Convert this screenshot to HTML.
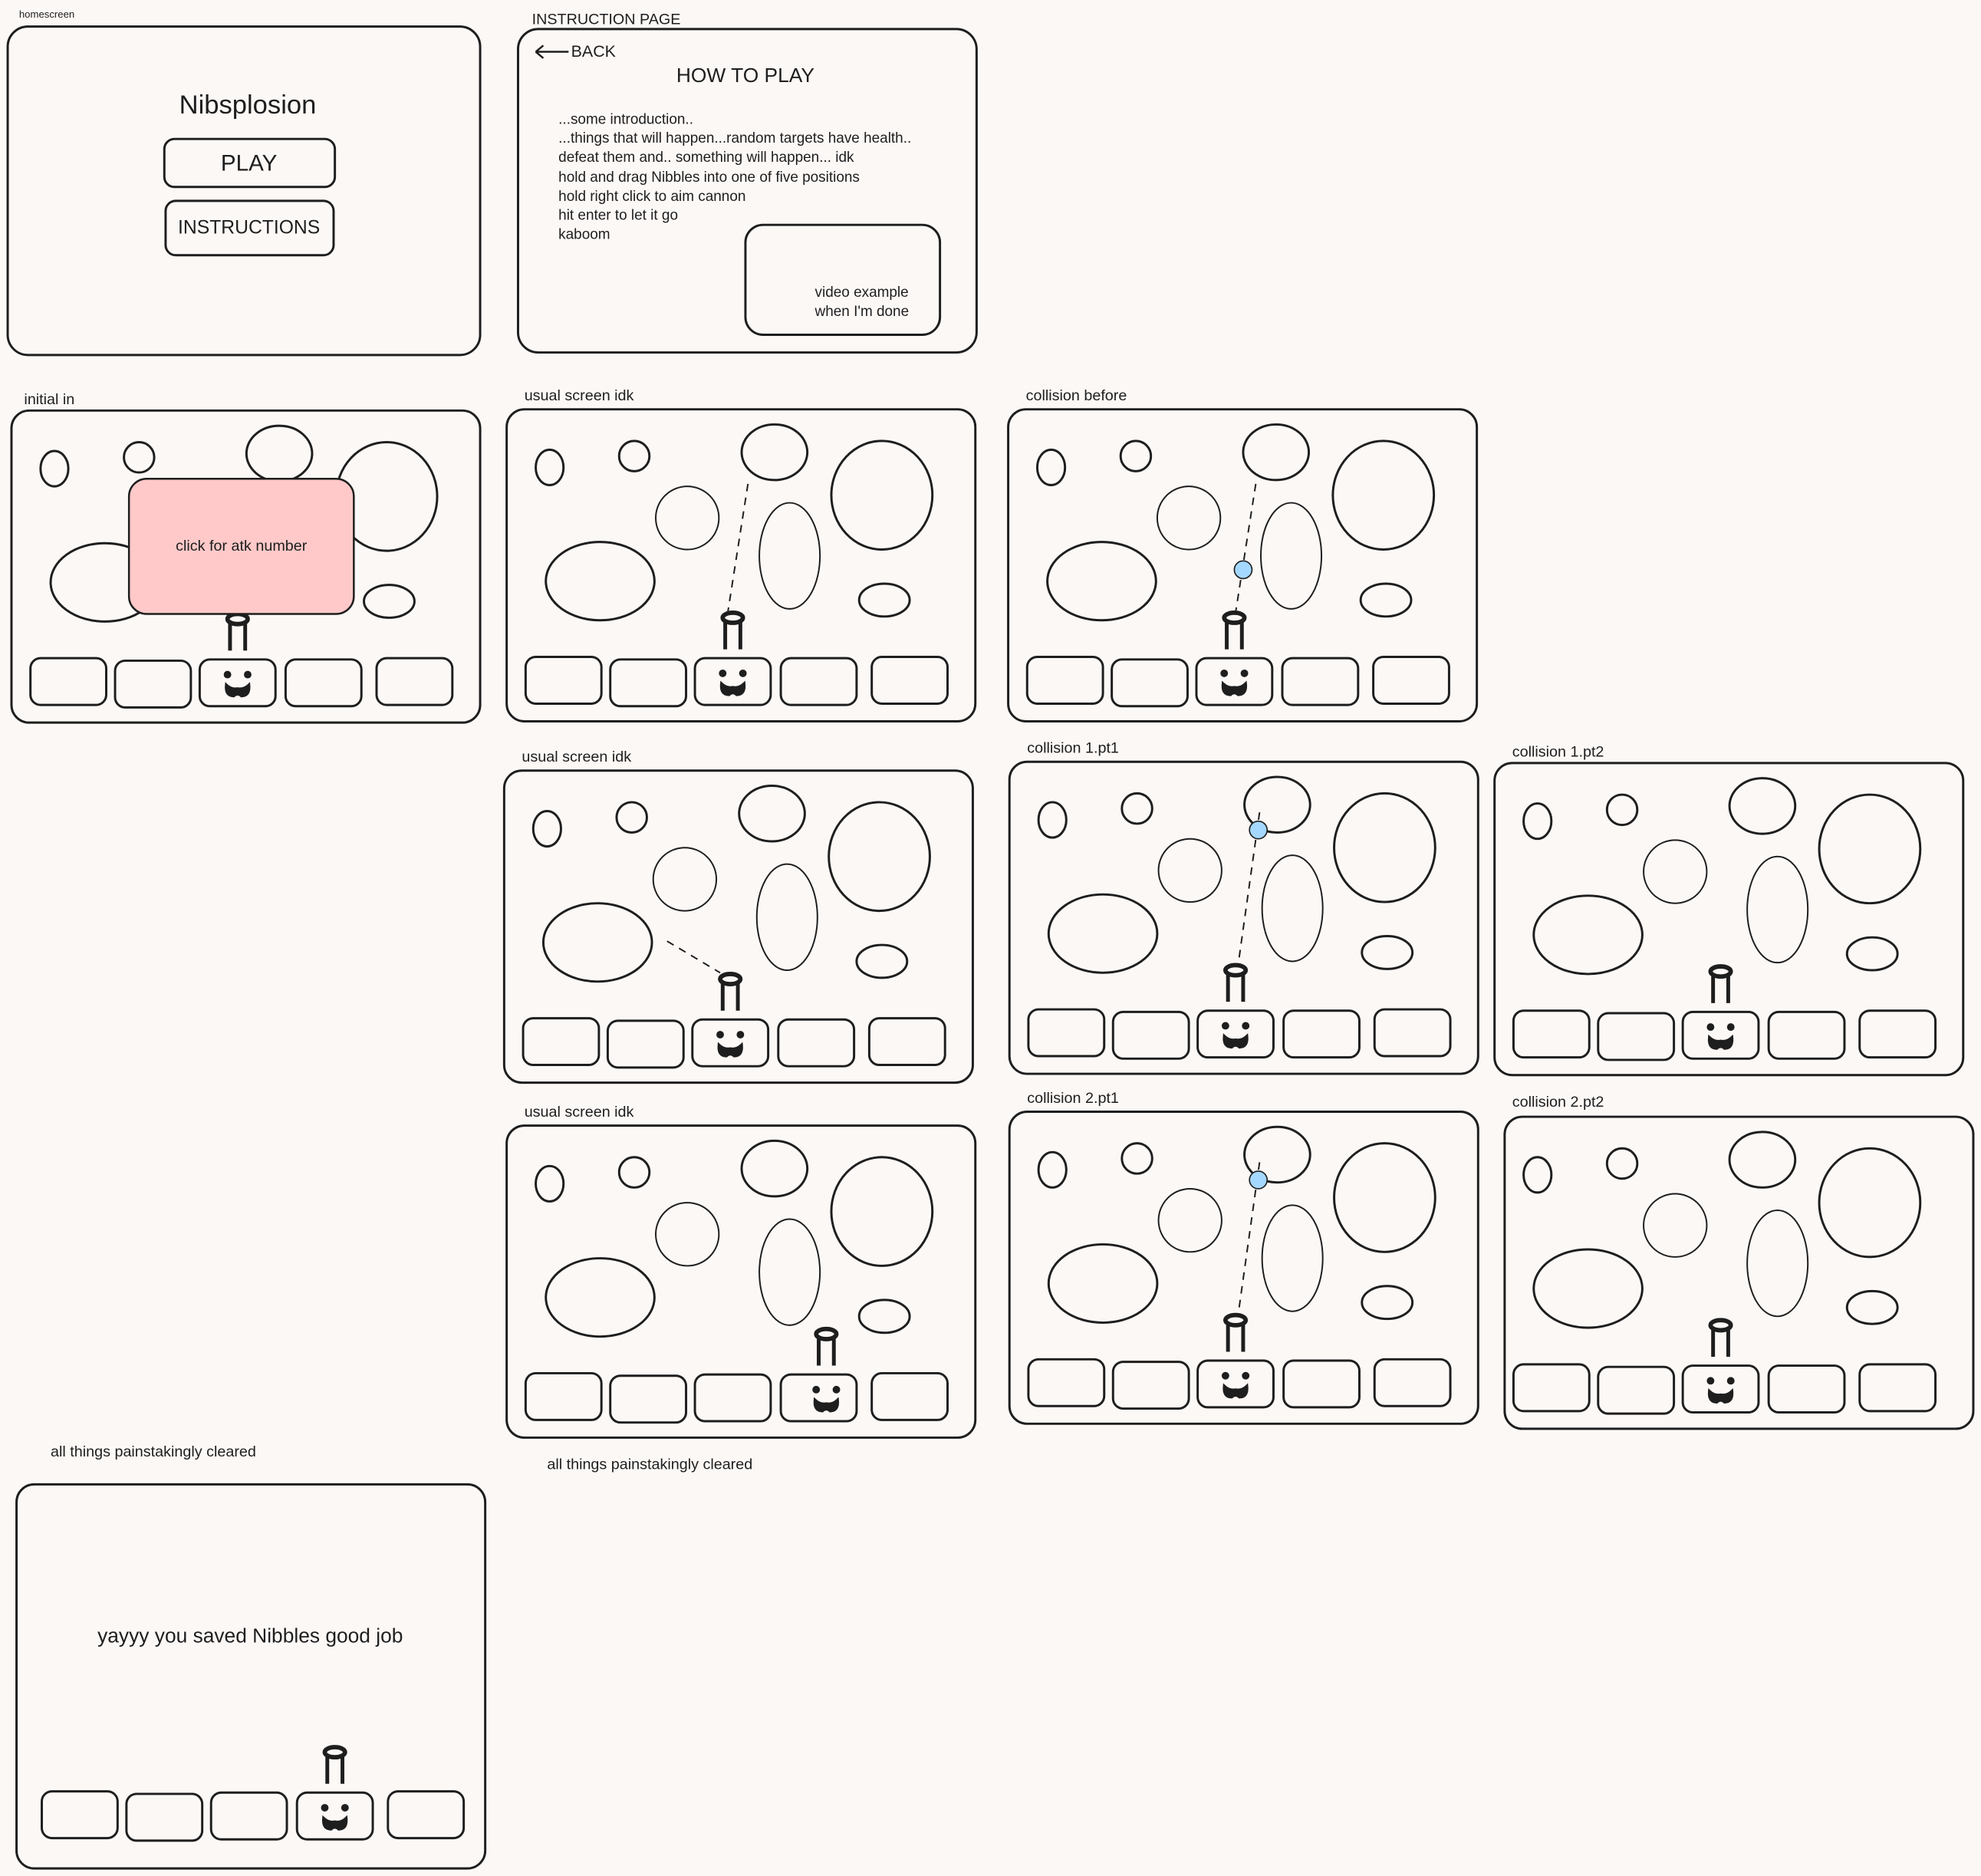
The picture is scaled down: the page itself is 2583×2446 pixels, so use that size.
<!DOCTYPE html>
<html><head><meta charset="utf-8"><style>
html,body{margin:0;padding:0;background:#fcf8f6;}
svg{display:block}
text{font-family:"Liberation Sans",sans-serif;fill:#1e1e1e}
</style></head><body>
<svg width="2583" height="2446" viewBox="0 0 1568 1485" xmlns="http://www.w3.org/2000/svg">
<rect width="1568" height="1485" fill="#fcf8f6"/>
<defs>
<g id="inner" fill="none" stroke="#1e1e1e" stroke-width="1.8">
  <ellipse cx="34" cy="46" rx="11" ry="14"/>
  <ellipse cx="101" cy="37" rx="12" ry="12"/>
  <ellipse cx="212" cy="34" rx="26" ry="22"/>
  <ellipse cx="143" cy="86" rx="25" ry="25" stroke-width="1.2"/>
  <ellipse cx="297" cy="68" rx="40" ry="43"/>
  <ellipse cx="74" cy="136" rx="43" ry="31"/>
  <ellipse cx="224" cy="116" rx="24" ry="42" stroke-width="1.2"/>
  <ellipse cx="299" cy="151" rx="20" ry="13"/>
  <rect x="15" y="196" width="60" height="37" rx="8"/>
  <rect x="82" y="198" width="60" height="37" rx="8"/>
  <rect x="149" y="197" width="60" height="37" rx="8"/>
  <rect x="217" y="197" width="60" height="37" rx="8"/>
  <rect x="289" y="196" width="60" height="37" rx="8"/>
</g>
<g id="base">
  <rect x="0" y="0" width="371" height="247" rx="14" fill="none" stroke="#1e1e1e" stroke-width="1.8"/>
  <use href="#inner"/>
</g>
<g id="slots" fill="none" stroke="#1e1e1e" stroke-width="1.8">
  <rect x="15" y="196" width="60" height="37" rx="8"/>
  <rect x="82" y="198" width="60" height="37" rx="8"/>
  <rect x="149" y="197" width="60" height="37" rx="8"/>
  <rect x="217" y="197" width="60" height="37" rx="8"/>
  <rect x="289" y="196" width="60" height="37" rx="8"/>
</g>
<g id="nib">
  <circle cx="-8" cy="12" r="3" fill="#1e1e1e"/>
  <circle cx="8" cy="12" r="3" fill="#1e1e1e"/>
  <path d="M-9,20 Q-10,29 -3,29 Q0,26 3,29 Q10,29 9,20 Q5,24 0,23 Q-5,24 -9,20Z" fill="#1e1e1e" stroke="#1e1e1e" stroke-width="2"/>
  <path d="M-6,-7 V-30 M6,-7 V-30" stroke="#1e1e1e" stroke-width="3" fill="none"/>
  <ellipse cx="0" cy="-32" rx="8" ry="4" fill="none" stroke="#1e1e1e" stroke-width="3.5"/>
</g>
</defs>

<text x="15" y="14" font-size="8">homescreen</text>
<rect x="6" y="21" width="374" height="260" rx="16" fill="none" stroke="#1e1e1e" stroke-width="1.8"/>
<text x="196" y="90" font-size="21" text-anchor="middle">Nibsplosion</text>
<rect x="130" y="110" width="135" height="38" rx="8" fill="none" stroke="#1e1e1e" stroke-width="1.8"/>
<text x="197" y="135" font-size="18" text-anchor="middle">PLAY</text>
<rect x="131" y="159" width="133" height="43" rx="8" fill="none" stroke="#1e1e1e" stroke-width="1.8"/>
<text x="197" y="185" font-size="15" text-anchor="middle">INSTRUCTIONS</text>

<text x="421" y="19" font-size="12">INSTRUCTION PAGE</text>
<rect x="410" y="23" width="363" height="256" rx="16" fill="none" stroke="#1e1e1e" stroke-width="1.8"/>
<path d="M424,41 H450 M424,41 l6,-5 M424,41 l6,5" stroke="#1e1e1e" stroke-width="1.5" fill="none"/>
<text x="452" y="45" font-size="13">BACK</text>
<text x="590" y="65" font-size="16" text-anchor="middle">HOW TO PLAY</text>
<g font-size="11.5">
<text x="442" y="98">...some introduction..</text>
<text x="442" y="113">...things that will happen...random targets have health..</text>
<text x="442" y="128">defeat them and.. something will happen... idk</text>
<text x="442" y="144">hold and drag Nibbles into one of five positions</text>
<text x="442" y="159">hold right click to aim cannon</text>
<text x="442" y="174">hit enter to let it go</text>
<text x="442" y="189">kaboom</text>
<text x="645" y="235">video example</text>
<text x="645" y="250">when I'm done</text>
</g>
<rect x="590" y="178" width="154" height="87" rx="14" fill="none" stroke="#1e1e1e" stroke-width="1.8"/>

<text x="19" y="320" font-size="12">initial in</text>
<g transform="translate(9,325)"><use href="#base"/><use href="#nib" transform="translate(179,197)"/>
<rect x="93" y="54" width="178" height="107" rx="14" fill="#ffc9c9" stroke="#1e1e1e" stroke-width="1.5"/>
<text x="182" y="111" font-size="12" text-anchor="middle">click for atk number</text></g>

<text x="415" y="317" font-size="12">usual screen idk</text>
<g transform="translate(401,324)"><use href="#base"/><use href="#nib" transform="translate(179,197)"/>
<line x1="191" y1="59" x2="175" y2="161" stroke="#1e1e1e" stroke-width="1.2" stroke-dasharray="6,5"/></g>

<text x="812" y="317" font-size="12">collision before</text>
<g transform="translate(798,324)"><use href="#base"/><use href="#nib" transform="translate(179,197)"/>
<line x1="196" y1="59" x2="180" y2="161" stroke="#1e1e1e" stroke-width="1.2" stroke-dasharray="6,5"/>
<circle cx="186" cy="127" r="7" fill="#a5d8ff" stroke="#1e1e1e" stroke-width="1"/></g>

<text x="413" y="603" font-size="12">usual screen idk</text>
<g transform="translate(399,610)"><use href="#base"/><use href="#nib" transform="translate(179,197)"/>
<line x1="129" y1="135" x2="171" y2="160" stroke="#1e1e1e" stroke-width="1.2" stroke-dasharray="6,5"/></g>

<text x="813" y="596" font-size="12">collision 1.pt1</text>
<g transform="translate(799,603)"><use href="#base"/><use href="#nib" transform="translate(179,197)"/>
<line x1="198" y1="40" x2="181" y2="161" stroke="#1e1e1e" stroke-width="1.2" stroke-dasharray="6,5"/>
<circle cx="197" cy="54" r="7" fill="#a5d8ff" stroke="#1e1e1e" stroke-width="1"/></g>

<text x="1197" y="599" font-size="12">collision 1.pt2</text>
<g transform="translate(1183,604)"><use href="#base"/><use href="#nib" transform="translate(179,197)"/></g>

<text x="415" y="884" font-size="12">usual screen idk</text>
<g transform="translate(401,891)"><use href="#base"/><use href="#nib" transform="translate(253,197)"/></g>

<text x="813" y="873" font-size="12">collision 2.pt1</text>
<g transform="translate(799,880)"><use href="#base"/><use href="#nib" transform="translate(179,197)"/>
<line x1="198" y1="40" x2="181" y2="161" stroke="#1e1e1e" stroke-width="1.2" stroke-dasharray="6,5"/>
<circle cx="197" cy="54" r="7" fill="#a5d8ff" stroke="#1e1e1e" stroke-width="1"/></g>

<text x="1197" y="876" font-size="12">collision 2.pt2</text>
<g transform="translate(1191,884)">
<rect x="0" y="0" width="371" height="247" rx="14" fill="none" stroke="#1e1e1e" stroke-width="1.8"/>
<use href="#inner" transform="translate(-8,0)"/><use href="#nib" transform="translate(171,197)"/></g>

<text x="40" y="1153" font-size="12">all things painstakingly cleared</text>
<text x="433" y="1163" font-size="12">all things painstakingly cleared</text>
<rect x="13" y="1175" width="371" height="304" rx="14" fill="none" stroke="#1e1e1e" stroke-width="1.8"/>
<text x="198" y="1300" font-size="16" text-anchor="middle">yayyy you saved Nibbles good job</text>
<g transform="translate(18,1222)"><use href="#slots"/><use href="#nib" transform="translate(247,197)"/></g>
</svg>
</body></html>
